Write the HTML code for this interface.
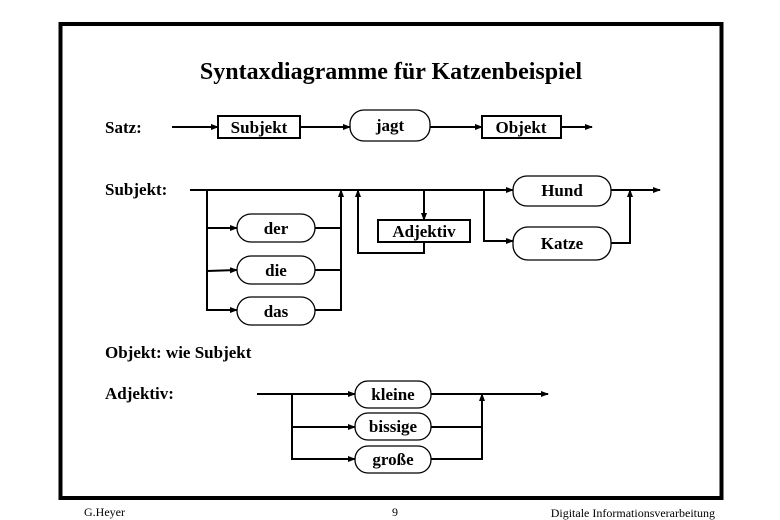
<!DOCTYPE html>
<html><head><meta charset="utf-8"><style>
html,body{margin:0;padding:0;background:#fff;}
svg{display:block;}
text{font-family:"Liberation Serif",serif;}
.b{font-weight:bold;font-size:17px;}
</style></head><body>
<svg width="780" height="520" viewBox="0 0 780 520" xmlns="http://www.w3.org/2000/svg">
<defs><marker id="a" markerWidth="8" markerHeight="8" refX="7" refY="4" orient="auto" markerUnits="userSpaceOnUse"><path d="M0,1 L8,4 L0,7 Z" fill="#000"/></marker></defs>
<rect x="60.5" y="24" width="661" height="474" fill="none" stroke="#000" stroke-width="4"/>
<text x="391" y="79" text-anchor="middle" font-weight="bold" font-size="24">Syntaxdiagramme für Katzenbeispiel</text>
<g stroke="#000" stroke-width="2" fill="none">
<line x1="172" y1="127" x2="218" y2="127" marker-end="url(#a)"/>
<rect x="218" y="116" width="82" height="22"/>
<line x1="300" y1="127" x2="350" y2="127" marker-end="url(#a)"/>
<rect x="350" y="110" width="80" height="31" rx="14" stroke-width="1.3"/>
<line x1="430" y1="127" x2="482" y2="127" marker-end="url(#a)"/>
<rect x="482" y="116" width="79" height="22"/>
<line x1="561" y1="127" x2="592" y2="127" marker-end="url(#a)"/>
<line x1="190" y1="190" x2="513" y2="190" marker-end="url(#a)"/>
<rect x="513" y="176" width="98" height="30" rx="14" stroke-width="1.3"/>
<line x1="611" y1="190" x2="660" y2="190" marker-end="url(#a)"/>
<polyline points="207,190 207,310 237,310" marker-end="url(#a)"/>
<line x1="207" y1="228" x2="237" y2="228" marker-end="url(#a)"/>
<line x1="207" y1="271" x2="237" y2="270" marker-end="url(#a)"/>
<rect x="237" y="214" width="78" height="28" rx="14" stroke-width="1.3"/>
<rect x="237" y="256" width="78" height="28" rx="14" stroke-width="1.3"/>
<rect x="237" y="297" width="78" height="28" rx="14" stroke-width="1.3"/>
<line x1="315" y1="228" x2="341" y2="228"/>
<line x1="315" y1="270" x2="341" y2="270"/>
<polyline points="315,310 341,310 341,190" marker-end="url(#a)"/>
<polyline points="424,242 424,253 358,253 358,190" marker-end="url(#a)"/>
<line x1="424" y1="190" x2="424" y2="220" marker-end="url(#a)"/>
<rect x="378" y="220" width="92" height="22"/>
<polyline points="484,190 484,241 513,241" marker-end="url(#a)"/>
<rect x="513" y="227" width="98" height="33" rx="15" stroke-width="1.3"/>
<polyline points="611,243 630,243 630,190" marker-end="url(#a)"/>
<line x1="257" y1="394" x2="355" y2="394" marker-end="url(#a)"/>
<polyline points="292,394 292,459 355,459" marker-end="url(#a)"/>
<line x1="292" y1="427" x2="355" y2="427" marker-end="url(#a)"/>
<rect x="355" y="381" width="76" height="27" rx="13" stroke-width="1.3"/>
<rect x="355" y="413" width="76" height="27" rx="13" stroke-width="1.3"/>
<rect x="355" y="446" width="76" height="27" rx="13" stroke-width="1.3"/>
<line x1="431" y1="394" x2="548" y2="394" marker-end="url(#a)"/>
<line x1="431" y1="427" x2="482" y2="427"/>
<polyline points="431,459 482,459 482,394" marker-end="url(#a)"/>
</g>
<g>
<text x="105" y="133" class="b">Satz:</text>
<text x="259" y="133" text-anchor="middle" class="b">Subjekt</text>
<text x="390" y="131" text-anchor="middle" class="b">jagt</text>
<text x="521" y="133" text-anchor="middle" class="b">Objekt</text>
<text x="105" y="195" class="b">Subjekt:</text>
<text x="562" y="196" text-anchor="middle" class="b">Hund</text>
<text x="276" y="234" text-anchor="middle" class="b">der</text>
<text x="276" y="276" text-anchor="middle" class="b">die</text>
<text x="276" y="317" text-anchor="middle" class="b">das</text>
<text x="424" y="237" text-anchor="middle" class="b">Adjektiv</text>
<text x="562" y="249" text-anchor="middle" class="b">Katze</text>
<text x="105" y="358" class="b">Objekt: wie Subjekt</text>
<text x="105" y="399" class="b">Adjektiv:</text>
<text x="393" y="400" text-anchor="middle" class="b">kleine</text>
<text x="393" y="432" text-anchor="middle" class="b">bissige</text>
<text x="393" y="465" text-anchor="middle" class="b">große</text>
</g>
<text x="84" y="516" font-size="12">G.Heyer</text>
<text x="395" y="516" font-size="12" text-anchor="middle">9</text>
<text x="715" y="517" font-size="12" text-anchor="end">Digitale Informationsverarbeitung</text>
</svg>
</body></html>
